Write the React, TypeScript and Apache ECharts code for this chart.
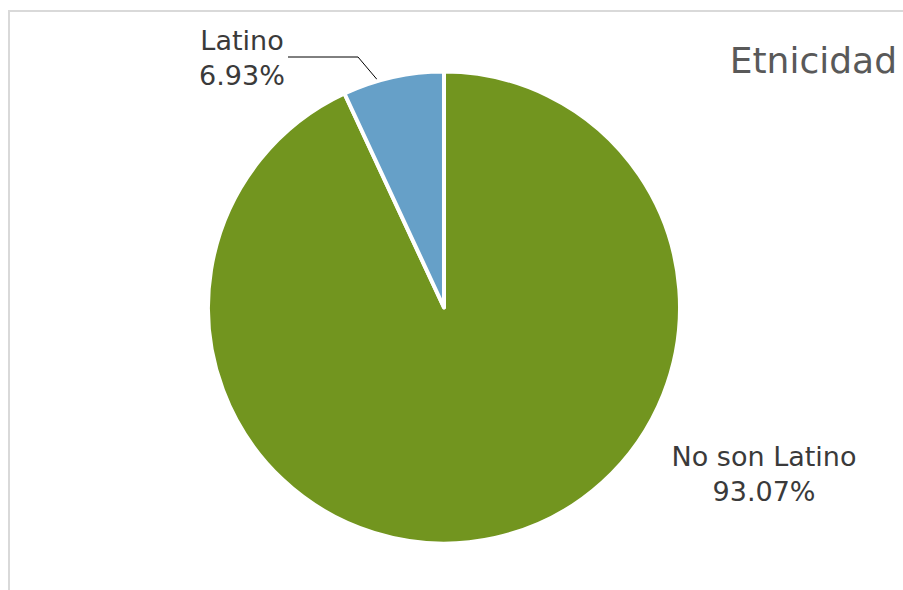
import React, { useEffect, useRef } from "react";
import * as echarts from "echarts";

const categories = ["No son Latino", "Latino"];
const values = [93.07, 6.93];
const colors = ["#72951f", "#66a0c8"];
const titleText = "Etnicidad";

export default function App() {
  const ref = useRef<HTMLDivElement>(null);
  useEffect(() => {
    document.body.style.margin = "0";
    const chart = echarts.init(ref.current!, null, { renderer: "svg" });
    const font = "'DejaVu Sans', sans-serif";
    chart.setOption({
      animation: false,
      backgroundColor: "#ffffff",
      title: {
        text: titleText,
        right: 1,
        top: 37,
        textStyle: { fontFamily: font, fontSize: 36, fontWeight: "normal", color: "#595959" },
      },
      graphic: [
        {
          type: "rect",
          shape: { x: 9, y: 11, width: 1200, height: 1200 },
          style: { fill: "none", stroke: "#d9d9d9", lineWidth: 2 },
          silent: true,
        },
      ],
      series: [
        {
          type: "pie",
          center: [444, 307.5],
          radius: 236,
          startAngle: 90,
          clockwise: true,
          itemStyle: { borderColor: "#ffffff", borderWidth: 4 },
          label: {
            show: true,
            position: "outside",
            fontFamily: font,
            fontSize: 27,
            lineHeight: 35,
            color: "#3a3a3a",
            align: "center",
            formatter: (p: any) => `${p.name}\n${p.value.toFixed(2)}%`,
          },
          labelLine: { show: true, lineStyle: { color: "#000000", width: 1 } },
          labelLayout: (p: any) => {
            if (p.dataIndex === 0) {
              return { x: 764, y: 474, align: "center", verticalAlign: "middle" };
            }
            return {
              x: 242,
              y: 58,
              align: "center",
              verticalAlign: "middle",
              labelLinePoints: [
                [380, 83],
                [358, 57],
                [288, 57],
              ],
            };
          },
          data: categories.map((c, i) => ({
            name: c,
            value: values[i],
            itemStyle: { color: colors[i] },
            labelLine: { show: i === 1 },
          })),
        },
      ],
    });
    return () => chart.dispose();
  }, []);
  return <div ref={ref} style={{ width: 903, height: 590 }} />;
}
